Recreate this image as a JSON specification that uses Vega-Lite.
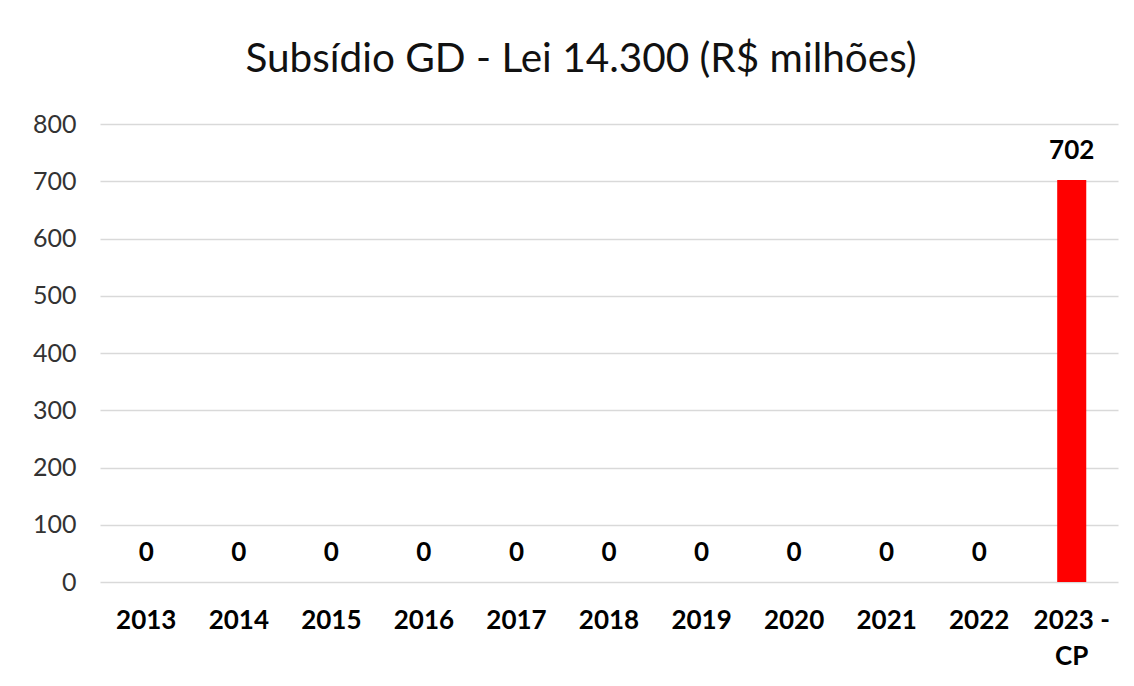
{
  "$schema": "https://vega.github.io/schema/vega-lite/v6.json",
  "autosize": "none",
  "width": 1018,
  "height": 458,
  "padding": {"left": 100, "top": 124, "right": 16, "bottom": 104},
  "background": "white",
  "title": {
    "text": "Subsídio GD - Lei 14.300 (R$ milhões)",
    "font": "Lato",
    "fontSize": 40.5,
    "fontWeight": "normal",
    "color": "#111111",
    "anchor": "middle",
    "frame": "group",
    "dx": -28,
    "offset": 32
  },
  "data": {
    "values": [
      {"ano": "2013", "valor": 0},
      {"ano": "2014", "valor": 0},
      {"ano": "2015", "valor": 0},
      {"ano": "2016", "valor": 0},
      {"ano": "2017", "valor": 0},
      {"ano": "2018", "valor": 0},
      {"ano": "2019", "valor": 0},
      {"ano": "2020", "valor": 0},
      {"ano": "2021", "valor": 0},
      {"ano": "2022", "valor": 0},
      {"ano": "2023 - CP", "valor": 702}
    ]
  },
  "config": {"view": {"stroke": null}},
  "encoding": {
    "x": {
      "field": "ano",
      "type": "nominal",
      "sort": null,
      "title": null,
      "scale": {"paddingInner": 0.686, "paddingOuter": 0.343},
      "axis": {
        "labelAngle": 0,
        "labelFont": "Lato",
        "labelFontSize": 26,
        "labelFontWeight": "bold",
        "labelColor": "#000000",
        "labelPadding": 25,
        "labelLineHeight": 36,
        "labelExpr": "datum.value == '2023 - CP' ? ['2023 -', 'CP'] : datum.label",
        "ticks": false,
        "domain": false,
        "grid": false
      }
    },
    "y": {
      "field": "valor",
      "type": "quantitative",
      "title": null,
      "scale": {"domain": [0, 800]},
      "axis": {
        "values": [0, 100, 200, 300, 400, 500, 600, 700, 800],
        "labelFont": "Lato",
        "labelFontSize": 25,
        "labelColor": "#333333",
        "labelPadding": 24,
        "ticks": false,
        "domain": false,
        "grid": true,
        "gridColor": "#d9d9d9",
        "gridWidth": 1.5
      }
    }
  },
  "layer": [
    {"mark": {"type": "bar", "color": "#ff0000"}},
    {
      "mark": {
        "type": "text",
        "font": "Lato",
        "fontSize": 26,
        "fontWeight": "bold",
        "color": "#000000",
        "baseline": "alphabetic",
        "dy": -21
      },
      "encoding": {"text": {"field": "valor", "type": "quantitative"}}
    }
  ]
}
